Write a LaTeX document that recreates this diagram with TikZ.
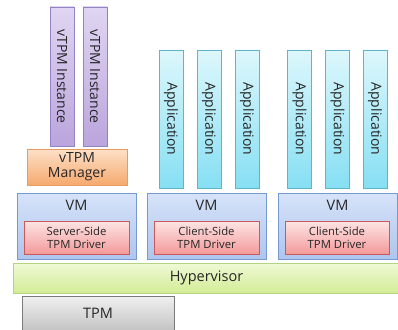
\documentclass[tikz,border=0pt]{standalone}
\usepackage{fontspec}
\setmainfont{Open Sans}
\definecolor{instT}{HTML}{E0D5F2}\definecolor{instB}{HTML}{BBA5DD}\definecolor{instD}{HTML}{9383C4}
\definecolor{mgrT}{HTML}{FDE0C8}\definecolor{mgrB}{HTML}{F6A96E}\definecolor{mgrD}{HTML}{E99A60}
\definecolor{vmT}{HTML}{D6E3F9}\definecolor{vmB}{HTML}{AEC5EE}\definecolor{vmD}{HTML}{7699CF}
\definecolor{drvT}{HTML}{FDE4E4}\definecolor{drvB}{HTML}{F39A9A}\definecolor{drvD}{HTML}{C85A5A}
\definecolor{appT}{HTML}{DDF7FC}\definecolor{appB}{HTML}{86DFF3}\definecolor{appD}{HTML}{5FB5CA}
\definecolor{hypT}{HTML}{EFF9D6}\definecolor{hypB}{HTML}{D3EC96}\definecolor{hypD}{HTML}{B6D283}
\definecolor{tpmT}{HTML}{F0F0F0}\definecolor{tpmB}{HTML}{C4C4C4}\definecolor{tpmD}{HTML}{7A7A7A}
\definecolor{txt}{HTML}{262626}
\begin{document}
\begin{tikzpicture}[x=1pt,y=-1pt,
  base/.style={draw, line width=0.8pt, inner sep=0pt, text=txt},
  rot/.style={rotate=-90, text=txt, font=\fontsize{14}{14}\selectfont},
  inst/.style={base, draw=instD, top color=instT, bottom color=instB, minimum width=24pt, minimum height=139pt},
  mgr/.style={base, draw=mgrD, top color=mgrT, bottom color=mgrB, minimum width=100pt, minimum height=36pt, font=\fontsize{14}{15}\selectfont, align=center},
  vm/.style={base, draw=vmD, top color=vmT, bottom color=vmB, minimum width=119pt, minimum height=66pt},
  drv/.style={base, draw=drvD, top color=drvT, bottom color=drvB, minimum width=105pt, minimum height=33pt, font=\fontsize{11.3}{13}\selectfont, align=center},
  app/.style={base, draw=appD, top color=appT, bottom color=appB, minimum width=24pt, minimum height=138pt},
  lbl/.style={text=txt, font=\fontsize{14.5}{14.5}\selectfont},
  hyp/.style={base, draw=hypD, top color=hypT, bottom color=hypB, minimum width=387pt, minimum height=30pt, font=\fontsize{14.5}{14.5}\selectfont},
  tpm/.style={base, draw=tpmD, top color=tpmT, bottom color=tpmB, minimum width=152pt, minimum height=34pt, font=\fontsize{14.5}{14.5}\selectfont}
]
\useasboundingbox (0,0) rectangle (398,329);
\clip (0,0) rectangle (398,329);
% vTPM instances
\node[inst] (i1) at (62,76.5) {};
\node[rot] (t1) at (i1.center) {vTPM Instance};
\node[inst] (i2) at (95,76.5) {};
\node[rot] (t2) at (i2.center) {vTPM Instance};
\node[mgr] (m) at (77,167) {vTPM\\Manager};
% applications
\foreach \n/\x in {a1/171,a2/209,a3/247,a4/299.5,a5/337.5,a6/375}{
  \node[app] (\n) at (\x,119) {};
  \node[rot] (\n t) at (\n.center) {Application};
}
% VMs
\node[vm] (vm1) at (76.5,226) {};
\node[lbl] (vm1l) at (76.5,205) {VM};
\node[drv] (d1) at (76.5,237.5) {Server-Side\\TPM Driver};
\node[vm] (vm2) at (206.5,226) {};
\node[lbl] (vm2l) at (206.5,205) {VM};
\node[drv] (d2) at (206.5,237.5) {Client-Side\\TPM Driver};
\node[vm] (vm3) at (337.5,226) {};
\node[lbl] (vm3l) at (337.5,205) {VM};
\node[drv, minimum width=104pt] (d3) at (337,237.5) {Client-Side\\TPM Driver};
% hypervisor
\node[hyp] (h) at (206.5,278) {Hypervisor};
% TPM
\node[tpm] (t) at (98,313) {TPM};
\end{tikzpicture}
\end{document}
